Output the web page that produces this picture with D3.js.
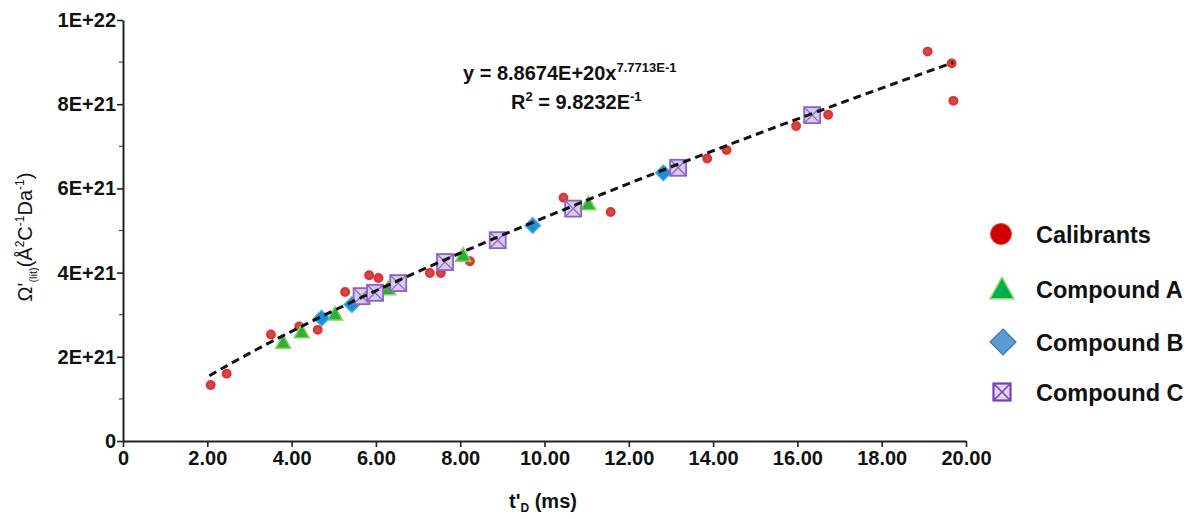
<!DOCTYPE html>
<html>
<head>
<meta charset="utf-8">
<script src="https://cdn.jsdelivr.net/npm/d3@7"></script>
<style>
  body { margin: 0; background: #fff; }
  svg text { font-family: "Liberation Sans", Arial, sans-serif; }
</style>
</head>
<body>
<div id="chart"></div>
<script>
// values (y in units of 1E+21)
var calX = [2.08, 2.46, 3.51, 4.18, 4.62, 5.27, 5.84, 6.06, 7.28, 7.54, 8.23, 10.45, 11.57, 13.86, 14.32, 15.97, 16.73, 19.09, 19.66, 19.70];
var calY = [1.33, 1.60, 2.53, 2.72, 2.64, 3.54, 3.94, 3.87, 3.99, 3.99, 4.27, 5.78, 5.44, 6.71, 6.91, 7.48, 7.75, 9.25, 8.97, 8.08];
var aX = [3.80, 4.24, 5.03, 6.29, 8.07, 11.04];
var aY = [2.33, 2.58, 3.00, 3.60, 4.40, 5.62];
var bX = [4.71, 5.43, 9.72, 12.82];
var bY = [2.92, 3.24, 5.12, 6.37];
var cX = [5.66, 5.98, 6.53, 7.64, 8.89, 10.68, 13.17, 16.35];
var cY = [3.44, 3.52, 3.75, 4.25, 4.77, 5.52, 6.49, 7.74];

var xTicks = [0, 2, 4, 6, 8, 10, 12, 14, 16, 18, 20];
var xTickLabels = ["0", "2.00", "4.00", "6.00", "8.00", "10.00", "12.00", "14.00", "16.00", "18.00", "20.00"];
var yTicks = [0, 2, 4, 6, 8, 10];
var yTickLabels = ["0", "2E+21", "4E+21", "6E+21", "8E+21", "1E+22"];
var yMinor = [1, 3, 5, 7, 9];

// power fit y = a * x^b (a in 1E+21 units), drawn between these x
var fitA = 0.88674, fitB = 0.77713;
var fitRange = [2.05, 19.7];

var legendNames = ["Calibrants", "Compound A", "Compound B", "Compound C"];

var width = 1190, height = 519;
var svg = d3.select("#chart").append("svg")
    .attr("width", width)
    .attr("height", height);

var x = d3.scaleLinear().domain([0, 20]).range([123, 966]);
var y = d3.scaleLinear().domain([0, 10]).range([441, 20]);

// axes
var xAxis = svg.append("g")
    .attr("transform", "translate(0,441)")
    .call(d3.axisBottom(x).tickValues(xTicks)
        .tickFormat(function (d, i) { return xTickLabels[i]; })
        .tickSize(6).tickSizeOuter(0));
xAxis.select(".domain").attr("stroke", "#222").attr("stroke-width", 2);
xAxis.selectAll(".tick line").attr("stroke", "#222").attr("stroke-width", 1.6);
xAxis.selectAll(".tick text")
    .attr("font-size", 20).attr("font-weight", "bold").attr("fill", "#111")
    .attr("dy", "0.75em").attr("y", 9);

var yAxis = svg.append("g")
    .attr("transform", "translate(123,0)")
    .call(d3.axisLeft(y).tickValues(yTicks)
        .tickFormat(function (d, i) { return yTickLabels[i]; })
        .tickSize(6).tickSizeOuter(0));
yAxis.select(".domain").attr("stroke", "#222").attr("stroke-width", 2);
yAxis.selectAll(".tick line").attr("stroke", "#222").attr("stroke-width", 1.6);
yAxis.selectAll(".tick text")
    .attr("font-size", 20).attr("font-weight", "bold").attr("fill", "#111")
    .attr("x", -7);

svg.append("g").selectAll("line")
    .data(yMinor).enter().append("line")
    .attr("x1", 119).attr("x2", 123)
    .attr("y1", function (d) { return y(d); })
    .attr("y2", function (d) { return y(d); })
    .attr("stroke", "#444").attr("stroke-width", 1.2);

// fit curve
var fitXs = d3.range(0, 101).map(function (i) {
    return fitRange[0] + (fitRange[1] - fitRange[0]) * i / 100;
});
var line = d3.line()
    .x(function (d) { return x(d); })
    .y(function (d) { return y(fitA * Math.pow(d, fitB)); });

// markers
function drawCircle(g, cx, cy, r, fill, stroke, sw) {
    g.append("circle").attr("cx", cx).attr("cy", cy).attr("r", r)
        .attr("fill", fill).attr("stroke", stroke).attr("stroke-width", sw);
}
function drawTriangle(g, cx, cy, s, fill, stroke) {
    var h = s * 0.9;
    g.append("path")
        .attr("d", "M" + cx + "," + (cy - h * 0.6) + "L" + (cx + s / 2) + "," + (cy + h * 0.4) +
            "L" + (cx - s / 2) + "," + (cy + h * 0.4) + "Z")
        .attr("fill", fill).attr("stroke", stroke).attr("stroke-width", 1.5);
}
function drawDiamond(g, cx, cy, s, fill, stroke) {
    g.append("path")
        .attr("d", "M" + cx + "," + (cy - s) + "L" + (cx + s) + "," + cy + "L" + cx + "," + (cy + s) +
            "L" + (cx - s) + "," + cy + "Z")
        .attr("fill", fill).attr("stroke", stroke).attr("stroke-width", 1.2);
}
function drawBox(g, cx, cy, s, fill, stroke, sw) {
    var h = s / 2;
    g.append("rect").attr("x", cx - h).attr("y", cy - h).attr("width", s).attr("height", s)
        .attr("fill", fill).attr("stroke", stroke).attr("stroke-width", sw);
    g.append("path")
        .attr("d", "M" + (cx - h) + "," + (cy - h) + "L" + (cx + h) + "," + (cy + h) +
            "M" + (cx + h) + "," + (cy - h) + "L" + (cx - h) + "," + (cy + h))
        .attr("stroke", stroke).attr("stroke-width", sw * 0.7).attr("fill", "none");
}

var pts = svg.append("g");
calX.forEach(function (d, i) {
    drawCircle(pts, x(d), y(calY[i]), 3.8, "#b85454", "#f22a2a", 2.3);
});
aX.forEach(function (d, i) {
    drawTriangle(pts, x(d), y(aY[i]), 15, "#2fae3c", "#7fd65a");
});
bX.forEach(function (d, i) {
    drawDiamond(pts, x(d), y(bY[i]), 8, "#1c8fd8", "#4fb3ea");
});
cX.forEach(function (d, i) {
    drawBox(pts, x(d), y(cY[i]), 16, "#d8cbee", "#8c62c4", 1.8);
});

svg.append("path")
    .datum(fitXs)
    .attr("d", line)
    .attr("fill", "none")
    .attr("stroke", "#111")
    .attr("stroke-width", 3)
    .attr("stroke-dasharray", "8,5");

// equation
var eq = svg.append("text").attr("x", 463).attr("y", 80)
    .attr("font-size", 20).attr("font-weight", "bold").attr("fill", "#111");
eq.append("tspan").text("y = 8.8674E+20x");
eq.append("tspan").attr("font-size", 13).attr("dy", -8).text("7.7713E-1");

var r2 = svg.append("text").attr("x", 511).attr("y", 109)
    .attr("font-size", 20).attr("font-weight", "bold").attr("fill", "#111");
r2.append("tspan").text("R");
r2.append("tspan").attr("font-size", 13).attr("dy", -8).text("2");
r2.append("tspan").attr("dy", 8).text(" = 9.8232E");
r2.append("tspan").attr("font-size", 13).attr("dy", -8).text("-1");

// axis titles
var xt = svg.append("text").attr("x", 543).attr("y", 508)
    .attr("text-anchor", "middle").attr("font-size", 20).attr("font-weight", "bold").attr("fill", "#111");
xt.append("tspan").text("t'");
xt.append("tspan").attr("font-size", 12).attr("dy", 4).text("D");
xt.append("tspan").attr("dy", -4).text(" (ms)");

var yt = svg.append("text")
    .attr("transform", "translate(32,237) rotate(-90)")
    .attr("text-anchor", "middle").attr("font-size", 20).attr("fill", "#111");
yt.append("tspan").text("Ω'");
yt.append("tspan").attr("font-size", 11).attr("dy", 5).text("(lit)");
yt.append("tspan").attr("dy", -5).text("(Å");
yt.append("tspan").attr("font-size", 12).attr("dy", -8).text("2");
yt.append("tspan").attr("dy", 8).text("C");
yt.append("tspan").attr("font-size", 12).attr("dy", -8).text("-1");
yt.append("tspan").attr("dy", 8).text("Da");
yt.append("tspan").attr("font-size", 12).attr("dy", -8).text("-1");
yt.append("tspan").attr("dy", 8).text(")");

// legend
var legY = [234, 289, 342, 392];
var leg = svg.append("g");
drawCircle(leg, 1001, legY[0], 10.5, "#d00000", "#e83a3a", 1);
drawTriangle(leg, 1002, legY[1] + 1, 24, "#00b050", "#8fe06a");
drawDiamond(leg, 1003, legY[2], 13, "#5b9bd5", "#3f78b0");
drawBox(leg, 1002, legY[3], 17, "#e2d6f2", "#7a3fb8", 2.2);
leg.selectAll("text.lg")
    .data(legendNames).enter().append("text")
    .attr("class", "lg")
    .attr("x", 1036)
    .attr("y", function (d, i) { return legY[i] + 9; })
    .attr("font-family", "'Open Sans', 'Noto Sans', sans-serif")
    .attr("font-size", 23.5).attr("font-weight", "bold").attr("fill", "#111")
    .text(function (d) { return d; });
</script>
</body>
</html>
